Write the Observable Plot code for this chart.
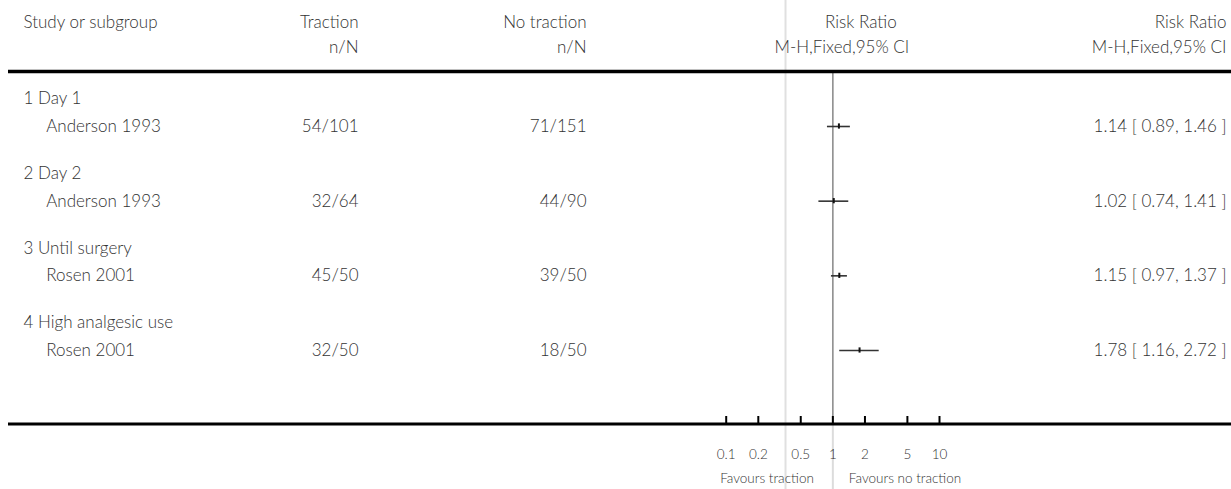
<!DOCTYPE html>
<html>
<head>
<meta charset="utf-8">
<script src="https://cdn.jsdelivr.net/npm/d3@7"></script>
<script src="https://cdn.jsdelivr.net/npm/@observablehq/plot@0.6"></script>
<style>
  html, body { margin: 0; padding: 0; background: #fff; }
  #chart svg { display: block; }
</style>
</head>
<body>
<div id="chart"></div>
<script>
// ---- Data ----
const subgroups = ["1 Day 1", "2 Day 2", "3 Until surgery", "4 High analgesic use"];
const studies = ["Anderson 1993", "Anderson 1993", "Rosen 2001", "Rosen 2001"];
const tractionN = ["54/101", "32/64", "45/50", "32/50"];
const noTractionN = ["71/151", "44/90", "39/50", "18/50"];
const riskRatio = [1.14, 1.02, 1.15, 1.78];
const ciLow = [0.89, 0.74, 0.97, 1.16];
const ciHigh = [1.46, 1.41, 1.37, 2.72];
const ciLabels = ["1.14 [ 0.89, 1.46 ]", "1.02 [ 0.74, 1.41 ]", "1.15 [ 0.97, 1.37 ]", "1.78 [ 1.16, 2.72 ]"];
const axisTicks = [0.1, 0.2, 0.5, 1, 2, 5, 10];
const axisTickLabels = ["0.1", "0.2", "0.5", "1", "2", "5", "10"];
const headerTop = ["Study or subgroup", "Traction", "No traction", "Risk Ratio", "Risk Ratio"];
const headerBottom = ["", "n/N", "n/N", "M-H,Fixed,95% CI", "M-H,Fixed,95% CI"];
const favourLabels = ["Favours traction", "Favours no traction"];
const separatorRR = 0.36;

// ---- Layout (y in study-row units) ----
const W = 1231, H = 489, ML = 8;
const yFirst = 126, yLast = 350, rowPx = (yLast - yFirst) / 3;
const u = px => (px - yFirst) / rowPx;
const L = {
  head1: u(22), head2: u(47), headRule: u(71),
  axis: u(423.5), tickTop: u(416), tickLab: u(454), favour: u(478),
  top: u(0), bottom: u(H), groupOff: -0.37
};
const col = { left: 23 - ML, indent: 45.7 - ML, trac: 358 - ML, notrac: 586 - ML };

const rows = subgroups.map((g, i) => ({
  group: g, study: studies[i], t: tractionN[i], c: noTractionN[i],
  rr: riskRatio[i], lo: ciLow[i], hi: ciHigh[i], ci: ciLabels[i], idx: i
}));

const FS = 17, FW = 300, TXT = "#333";
const txt = (data, o) => Plot.text(data, {
  fontSize: FS, fontWeight: FW, fill: TXT, lineAnchor: "middle", ...o
});
const small = (data, o) => Plot.text(data, {
  fontSize: 13.5, fontWeight: FW, fill: TXT, lineAnchor: "middle", ...o
});

const chart = Plot.plot({
  width: W, height: H,
  marginLeft: ML, marginRight: 0, marginTop: 0, marginBottom: 0,
  x: { type: "log", domain: [0.1, 10], range: [725.7, 939], axis: null },
  y: { domain: [0, 3], range: [yFirst, yLast], axis: null },
  style: { fontFamily: "Lato, 'Open Sans', sans-serif", background: "#fff" },
  marks: [
    // light guide lines
    Plot.ruleX([separatorRR], { y1: () => L.top, y2: () => L.bottom, stroke: "#e0e0e0", strokeWidth: 2 }),
    Plot.ruleX([1], { y1: () => L.axis, y2: () => L.bottom, stroke: "#dcdcdc", strokeWidth: 2 }),
    // no-effect line
    Plot.ruleX([1], { y1: () => L.headRule, y2: () => L.axis, stroke: "#8e8e8e", strokeWidth: 1.6 }),
    // header texts
    txt([0], { frameAnchor: "left", dx: col.left, y: () => L.head1, text: () => headerTop[0], textAnchor: "start" }),
    txt([0], { frameAnchor: "left", dx: col.trac, y: () => L.head1, text: () => headerTop[1], textAnchor: "end" }),
    txt([0], { frameAnchor: "left", dx: col.trac, y: () => L.head2, text: () => headerBottom[1], textAnchor: "end" }),
    txt([0], { frameAnchor: "left", dx: col.notrac, y: () => L.head1, text: () => headerTop[2], textAnchor: "end" }),
    txt([0], { frameAnchor: "left", dx: col.notrac, y: () => L.head2, text: () => headerBottom[2], textAnchor: "end" }),
    txt([1], { x: d => d, dx: 28, y: () => L.head1, text: () => headerTop[3], textAnchor: "middle" }),
    txt([1], { x: d => d, dx: 9, y: () => L.head2, text: () => headerBottom[3], textAnchor: "middle" }),
    txt([0], { frameAnchor: "right", dx: -5, y: () => L.head1, text: () => headerTop[4], textAnchor: "end" }),
    txt([0], { frameAnchor: "right", dx: -5, y: () => L.head2, text: () => headerBottom[4], textAnchor: "end" }),
    // header rule and axis rule
    Plot.ruleY([L.headRule], { stroke: "#000", strokeWidth: 3.5 }),
    Plot.ruleY([L.axis], { stroke: "#000", strokeWidth: 3 }),
    // rows
    txt(rows, { frameAnchor: "left", dx: col.left, y: d => d.idx + L.groupOff, text: "group", textAnchor: "start" }),
    txt(rows, { frameAnchor: "left", dx: col.indent, y: "idx", text: "study", textAnchor: "start" }),
    txt(rows, { frameAnchor: "left", dx: col.trac, y: "idx", text: "t", textAnchor: "end" }),
    txt(rows, { frameAnchor: "left", dx: col.notrac, y: "idx", text: "c", textAnchor: "end" }),
    txt(rows, { frameAnchor: "right", dx: -5, y: "idx", text: "ci", textAnchor: "end" }),
    // confidence intervals and point estimates
    Plot.ruleY(rows, { y: "idx", x1: "lo", x2: "hi", stroke: "#333", strokeWidth: 1.6 }),
    Plot.ruleX(rows, { x: "rr", y1: d => d.idx - 0.035, y2: d => d.idx + 0.035, stroke: "#111", strokeWidth: 2 }),
    // axis ticks and labels
    Plot.ruleX(axisTicks, { x: d => d, y1: () => L.tickTop, y2: () => L.axis, stroke: "#000", strokeWidth: 2 }),
    small(axisTicks, { x: d => d, y: () => L.tickLab, text: (d, i) => axisTickLabels[i], textAnchor: "middle" }),
    small([1], { x: d => d, dx: -19, y: () => L.favour, text: () => favourLabels[0], textAnchor: "end" }),
    small([1], { x: d => d, dx: 16, y: () => L.favour, text: () => favourLabels[1], textAnchor: "start" })
  ]
});
document.getElementById("chart").appendChild(chart);
</script>
</body>
</html>
